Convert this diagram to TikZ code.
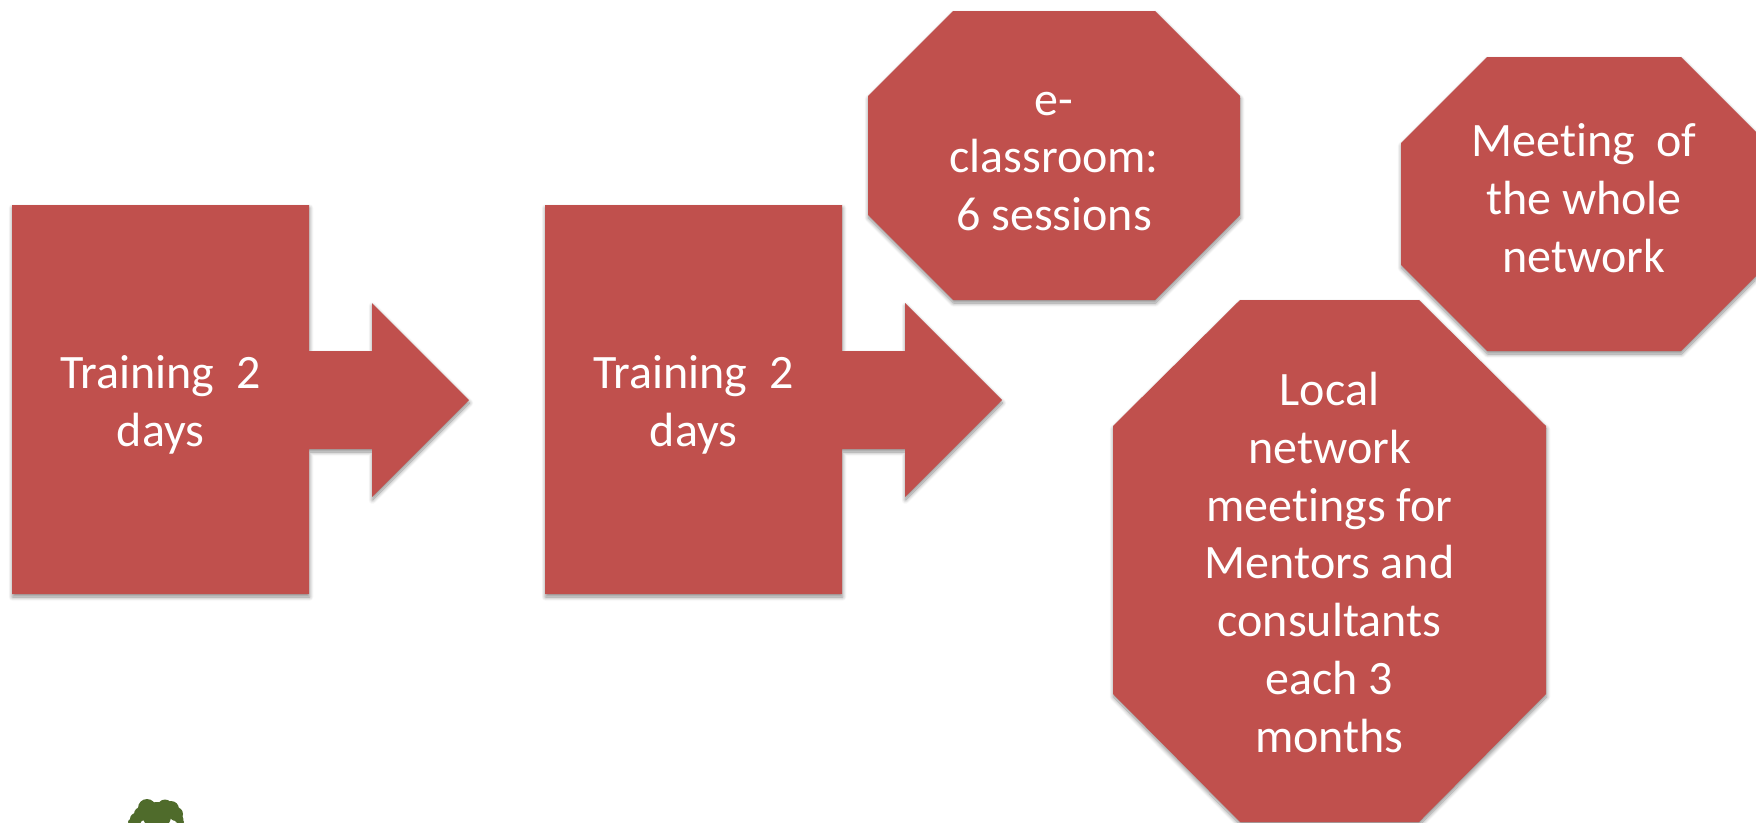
\documentclass[tikz,border=0pt]{standalone}
\usepackage{fontspec}
\setmainfont[Ligatures=NoCommon]{Carlito}
\usetikzlibrary{shadows.blur}
\definecolor{boxred}{HTML}{C0504D}
\definecolor{treegreen}{HTML}{4F6B2B}
\tikzset{
  softshadow/.style={blur shadow={shadow xshift=0.5pt, shadow yshift=-3pt, shadow blur radius=4pt, shadow blur steps=8, shadow opacity=45}},
  boxshape/.style={fill=boxred, softshadow},
  boxtext/.style={text=white, align=center, inner sep=0pt, font=\fontsize{48}{57.8}\selectfont},
}
\begin{document}
\begin{tikzpicture}[x=1pt, y=-1pt]
  \useasboundingbox (0,0) rectangle (1756,822);
  \clip (0,0) rectangle (1756,822);

  % tree at the lower edge
  \foreach \cx/\cy/\rad in {147/808/9, 165/807/7.5, 171/809/8, 141/814/7, 176/814/7, 157/816/14, 136/819/6, 179/819/4.5, 131/822/3, 181/822/3}
    \fill[treegreen] (\cx,\cy) circle[radius=\rad];

  % first training box
  \path[boxshape] (12,205) -- (309,205) -- (309,351) -- (372,351) -- (372,303) -- (469,400) -- (372,497) -- (372,449) -- (309,449) -- (309,594) -- (12,594) -- cycle;
  \node[boxtext] (train1) at (160.5,404.5) {Training\ \ 2\\days};

  % second training box
  \path[boxshape] (545,205) -- (842,205) -- (842,351) -- (905,351) -- (905,303) -- (1002,400) -- (905,497) -- (905,449) -- (842,449) -- (842,594) -- (545,594) -- cycle;
  \node[boxtext] (train2) at (693.5,404.5) {Training\ \ 2\\days};

  % octagons
  \path[boxshape] (953,11) -- (1155,11) -- (1240,96) -- (1240,215) -- (1155,300) -- (953,300) -- (868,215) -- (868,96) -- cycle;
  \node[boxtext] (eclass) at (1054,161.5) {e-\\classroom:\\6 sessions};

  \path[boxshape] (1487,57) -- (1681,57) -- (1767,143) -- (1767,265) -- (1681,351) -- (1487,351) -- (1401,265) -- (1401,143) -- cycle;
  \node[boxtext] (meeting) at (1584,198) {Meeting\ \ of\\the whole\\network};

  \path[boxshape] (1240,300) -- (1419,300) -- (1546,426) -- (1546,694) -- (1419,822) -- (1240,822) -- (1113,694) -- (1113,426) -- cycle;
  \node[boxtext] (local) at (1329.5,562.5) {Local\\network\\meetings for\\Mentors and\\consultants\\each 3\\months};
\end{tikzpicture}
\end{document}
